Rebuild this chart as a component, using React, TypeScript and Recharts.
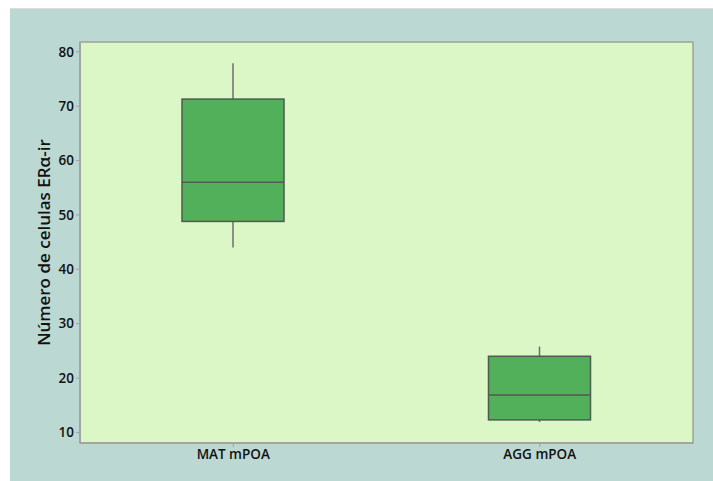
import React from 'react';
import { ComposedChart, Bar, XAxis, YAxis, CartesianGrid, ReferenceArea } from 'recharts';

const categories = ['MAT mPOA', 'AGG mPOA'];
const mins = [44, 11.9];
const q1s = [48.8, 12.3];
const medians = [56, 16.9];
const q3s = [71.3, 24];
const maxs = [77.9, 25.8];
const yTicks = [10, 20, 30, 40, 50, 60, 70, 80];
const yDomain = [8.05, 81.8];

const data = categories.map((c, i) => ({
  name: c,
  box: [q1s[i], q3s[i]],
  min: mins[i],
  q1: q1s[i],
  median: medians[i],
  q3: q3s[i],
  max: maxs[i],
}));

const BoxShape = (props: any) => {
  const { x, y, width, height, payload } = props;
  const top = Math.min(y, y + height);
  const h = Math.abs(height);
  const k = h / (payload.q3 - payload.q1);
  const cx = x + width / 2;
  const yMax = top - (payload.max - payload.q3) * k;
  const yMin = top + h + (payload.q1 - payload.min) * k;
  const yMed = top + (payload.q3 - payload.median) * k;
  return (
    <g>
      <line x1={cx} x2={cx} y1={yMax} y2={top} stroke="#6e6e6e" strokeWidth={1.5} />
      <line x1={cx} x2={cx} y1={top + h} y2={yMin} stroke="#6e6e6e" strokeWidth={1.5} />
      <rect x={x} y={top} width={width} height={h} fill="#52b05a" stroke="#505a50" strokeWidth={1.5} />
      <line x1={x} x2={x + width} y1={yMed} y2={yMed} stroke="#505a50" strokeWidth={1.5} />
    </g>
  );
};

export default function App() {
  return (
    <>
      <style>{`html,body{margin:0;padding:0;overflow:hidden;width:713px;height:481px;}`}</style>
      <div style={{ position: 'absolute', left: 10, top: 8, width: 703, height: 473, background: '#bcd8d2', borderTop: '1px solid #dcdcdc', boxSizing: 'border-box', overflow: 'hidden' }}>
        <ComposedChart
          width={703}
          height={472}
          data={data}
          margin={{ top: 33, right: 20, bottom: 0, left: 0 }}
          barCategoryGap={0}
        >
          <CartesianGrid horizontal={false} vertical={false} fill="#daf7c5" />
          <XAxis
            dataKey="name"
            height={38}
            tickLine={{ stroke: '#a0a0a0' }}
            tickSize={4}
            axisLine={{ stroke: '#a0a0a0', strokeWidth: 1.5 }}
            tick={{ fill: '#111', fontSize: 13.5, fontFamily: 'Open Sans', fontWeight: 600 }}
          />
          <YAxis
            type="number"
            domain={yDomain}
            ticks={yTicks}
            allowDataOverflow
            width={70}
            tickSize={4}
            tickLine={{ stroke: '#a0a0a0' }}
            axisLine={{ stroke: '#a0a0a0', strokeWidth: 1.5 }}
            tick={{ fill: '#111', fontSize: 13.5, fontFamily: 'Open Sans', fontWeight: 600 }}
            label={{
              value: 'Número de celulas ERα-ir',
              angle: -90,
              position: 'insideLeft',
              offset: 34,
              style: { textAnchor: 'middle', fill: '#111', fontSize: 17, fontFamily: 'Open Sans', fontWeight: 600 },
            }}
          />
          <ReferenceArea y1={yDomain[0]} y2={yDomain[1]} fill="none" stroke="#a0a0a0" strokeWidth={1.5} />
          <Bar dataKey="box" barSize={102} shape={<BoxShape />} isAnimationActive={false} />
        </ComposedChart>
      </div>
    </>
  );
}
